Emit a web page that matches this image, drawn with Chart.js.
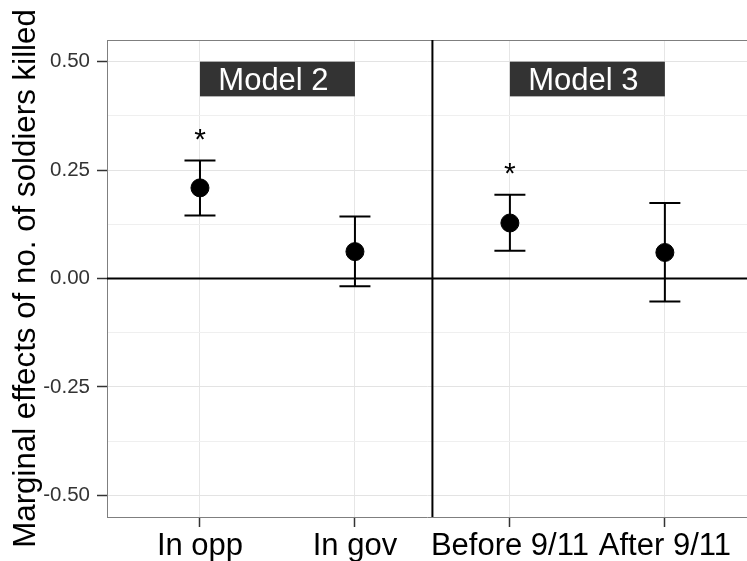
<!DOCTYPE html>
<html><head><meta charset="utf-8">
<script src="https://cdn.jsdelivr.net/npm/chart.js@4"></script>
<style>html,body{margin:0;padding:0;background:#fff;overflow:hidden}canvas{display:block}</style>
</head><body>
<canvas id="c" width="757" height="561"></canvas>
<script>
const categories = ['In opp', 'In gov', 'Before 9/11', 'After 9/11'];
const estimates = [0.209, 0.062, 0.128, 0.060];
const lower = [0.145, -0.018, 0.064, -0.053];
const upper = [0.272, 0.143, 0.193, 0.174];
const stars = ['*', '', '*', ''];
const panelLabels = ['Model 2', 'Model 3'];
const panelSpans = [[1, 2], [3, 4]];
const panelBoxY = [0.42, 0.5];
const yMajorTicks = [-0.5, -0.25, 0, 0.25, 0.5];
const yMinorTicks = [-0.375, -0.125, 0.125, 0.375];
const yTitle = 'Marginal effects of no. of soldiers killed';

const FONT = "'Liberation Sans', Arial, sans-serif";
const catPos = categories.map((c, i) => i + 1);
const majorSet = new Set(yMajorTicks.map(v => v.toFixed(3)));
const isMajor = v => majorSet.has(Number(v).toFixed(3));

const overlay = {
  id: 'overlay',
  beforeDatasetsDraw(chart) {
    const {ctx, chartArea: a, scales: {x, y}} = chart;
    ctx.save();
    ctx.strokeStyle = '#7f7f7f'; ctx.lineWidth = 1;
    ctx.beginPath(); ctx.moveTo(a.left, a.top + 0.5); ctx.lineTo(a.right, a.top + 0.5); ctx.stroke();
    ctx.strokeStyle = '#000'; ctx.lineWidth = 2;
    const y0 = y.getPixelForValue(0);
    ctx.beginPath(); ctx.moveTo(a.left, y0); ctx.lineTo(a.right, y0); ctx.stroke();
    const xd = x.getPixelForValue(2.5);
    ctx.beginPath(); ctx.moveTo(xd, a.top); ctx.lineTo(xd, a.bottom); ctx.stroke();
    // panel labels
    panelLabels.forEach((lab, i) => {
      const x1 = x.getPixelForValue(panelSpans[i][0]);
      const x2 = x.getPixelForValue(panelSpans[i][1]);
      const yt = y.getPixelForValue(panelBoxY[1]);
      const yb = y.getPixelForValue(panelBoxY[0]);
      ctx.fillStyle = '#333333';
      ctx.fillRect(x1, yt, x2 - x1, yb - yt);
      ctx.fillStyle = '#ffffff';
      ctx.font = '31px ' + FONT;
      ctx.textAlign = 'center'; ctx.textBaseline = 'alphabetic';
      ctx.fillText(lab, (x1 + x2) / 2 - 4, (yt + yb) / 2 + 10.5);
    });
    // error bars
    ctx.strokeStyle = '#000'; ctx.lineWidth = 2;
    catPos.forEach((c, i) => {
      const xc = x.getPixelForValue(c);
      const xl = x.getPixelForValue(c - 0.1);
      const xr = x.getPixelForValue(c + 0.1);
      const yh = y.getPixelForValue(upper[i]);
      const yl = y.getPixelForValue(lower[i]);
      ctx.beginPath();
      ctx.moveTo(xc, yh); ctx.lineTo(xc, yl);
      ctx.moveTo(xl, yh); ctx.lineTo(xr, yh);
      ctx.moveTo(xl, yl); ctx.lineTo(xr, yl);
      ctx.stroke();
      if (stars[i]) {
        ctx.fillStyle = '#000';
        ctx.font = '30px ' + FONT;
        ctx.textAlign = 'center'; ctx.textBaseline = 'alphabetic';
        ctx.fillText(stars[i], xc, y.getPixelForValue(upper[i] + 0.066) + 17);
      }
    });
    ctx.restore();
  }
};

new Chart(document.getElementById('c'), {
  type: 'scatter',
  data: {
    datasets: [{
      data: catPos.map((c, i) => ({x: c, y: estimates[i]})),
      backgroundColor: '#000', borderColor: '#000',
      pointRadius: 9, pointHoverRadius: 9
    }]
  },
  options: {
    responsive: false, animation: false,
    layout: {padding: {top: 40, left: 0, right: 0, bottom: 0}},
    plugins: {legend: {display: false}, tooltip: {enabled: false}},
    scales: {
      x: {
        type: 'linear', min: 0.4, max: 4.53,
        afterBuildTicks: s => { s.ticks = catPos.map(v => ({value: v})); },
        afterFit: s => { s.height = 44; },
        ticks: {
          callback: v => categories[Math.round(v) - 1],
          font: {size: 31, family: FONT}, color: '#000', padding: 1, maxRotation: 0, autoSkip: false
        },
        grid: {color: '#e6e6e6', lineWidth: 1, tickColor: '#333', tickLength: 10, tickWidth: 1.5},
        border: {display: true, color: '#7f7f7f', width: 1}
      },
      y: {
        type: 'linear', min: -0.55, max: 0.55,
        afterBuildTicks: s => { s.ticks = [...yMajorTicks, ...yMinorTicks].sort((a, b) => a - b).map(v => ({value: v})); },
        afterFit: s => { s.width = 107; },
        ticks: {
          callback: v => isMajor(v) ? Number(v).toFixed(2) : '',
          font: {size: 20.5, family: FONT}, color: '#333', padding: 7, autoSkip: false
        },
        grid: {
          color: c => isMajor(c.tick.value) ? '#e3e3e3' : '#efefef',
          lineWidth: 1,
          tickColor: c => isMajor(c.tick.value) ? '#333' : 'rgba(0,0,0,0)',
          tickLength: 10, tickWidth: 1.5
        },
        border: {display: true, color: '#7f7f7f', width: 1},
        title: {display: true, text: yTitle, font: {size: 31.3, family: FONT}, color: '#000', padding: {top: 8, bottom: 0}}
      }
    }
  },
  plugins: [overlay]
});
</script>
</body></html>
